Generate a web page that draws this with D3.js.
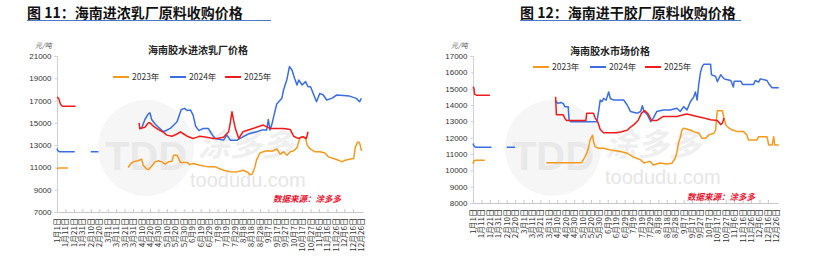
<!DOCTYPE html>
<html>
<head>
<meta charset="utf-8">
<script src="https://cdn.jsdelivr.net/npm/d3@7"></script>
<style>
  body { margin: 0; background: #fff; }
  svg { display: block; font-family: "Liberation Sans", Arial, sans-serif; }
</style>
</head>
<body>
<div id="chart"></div>
<script>
// x labels, one every 10 days
const xLabels = ["1月1日","1月11日","1月21日","1月31日","2月10日","2月20日","3月1日","3月11日","3月21日","3月31日",
  "4月10日","4月20日","4月30日","5月10日","5月20日","5月30日","6月9日","6月19日","6月29日","7月9日","7月19日",
  "7月29日","8月8日","8月18日","8月28日","9月7日","9月17日","9月27日","10月7日","10月17日","10月27日",
  "11月6日","11月16日","11月26日","12月6日","12月16日","12月26日"];
const seriesNames = ["2023年", "2024年", "2025年"];

// chart 11 (浓乳厂) : [day of year, price], null = gap
const latex2023 = [[0,10850],[2,10950],[13,10950],null,
  [84,11000],[88,11400],[92,11550],[96,11600],[100,11750],[102,11200],[106,10850],[108,10800],[112,11100],
  [116,11500],[120,11600],[124,11500],[128,11300],[132,11500],[136,11550],[138,12100],[142,12100],[146,11450],
  [154,11450],[157,11250],[161,11350],[169,11200],[179,11050],[187,11050],[197,10750],[205,10620],[213,10600],
  [220,10750],[226,10550],[228,10350],[231,10400],[234,11000],[236,11650],[240,12300],[244,12400],[248,12500],
  [254,12450],[256,12500],[260,12650],[264,12200],[268,12400],[272,12100],[276,12400],[280,12500],[284,12800],
  [286,13300],[288,13700],[292,13700],[294,13600],[296,13000],[299,12700],[305,12400],[311,12400],[317,12300],
  [321,11950],[327,11800],[333,11650],[337,11500],[341,11650],[347,11750],[351,11800],[353,12850],[356,13300],
  [358,13200],[360,12550],[361,12500]];
const latex2024 = [[0,12700],[1,12500],[3,12400],[21,12400],null,[40,12400],[49,12400],null,
  [97,14500],[100,14500],[104,15300],[108,15800],[110,15900],[112,15300],[116,14900],[120,14600],[126,14200],
  [134,14500],[142,15100],[147,16200],[151,16300],[154,16100],[158,16150],[161,15700],[164,14700],[168,14300],
  [173,14500],[179,14500],[183,14000],[187,13600],[197,13450],[201,13900],[205,13450],[213,13450],[220,13750],
  [228,14050],[236,14200],[242,14350],[248,14350],[250,15300],[252,14350],[254,14800],[258,16100],[260,16700],
  [266,17200],[268,17950],[272,18900],[275,20050],[278,19750],[281,19000],[284,18400],[286,18850],[290,18400],
  [294,18700],[297,18250],[300,18250],[303,17650],[307,16900],[311,17650],[315,17500],[319,17050],[325,17200],
  [331,17500],[346,17400],[354,17200],[358,16900],[360,17200]];
const latex2025 = [[0,17300],[2,17200],[4,16700],[6,16500],[22,16500],null,
  [97,15000],[98,14500],[104,14600],[108,15000],[110,15000],[114,14700],[120,14400],[125,14200],[130,13900],
  [136,13800],[142,14000],[146,14200],[150,14000],[154,13800],[161,13600],[165,13700],[169,13800],[177,13700],
  [185,13600],[189,13600],[197,13700],[203,14200],[205,15000],[207,16000],[209,15200],[211,14500],[215,13600],
  [220,14200],[228,14400],[236,14600],[244,14800],[252,14500],[260,14500],[268,14500],[276,14400],[280,13800],
  [285,13600],[291,13750],[295,13600],[297,14200]];

// chart 12 (干胶厂)
const dry2023 = [[0,10400],[1,10570],[3,10620],[14,10620],null,
  [87,10470],[129,10470],[133,10840],[135,11050],[137,11350],[139,11860],[141,12060],[142,12150],[143,11760],
  [145,11450],[149,11350],[155,11350],[163,11250],[175,11150],[183,11050],[191,10800],[199,10640],[203,10450],
  [210,10550],[214,10330],[222,10450],[230,10390],[236,10430],[240,10740],[242,11100],[244,11700],[246,12000],
  [248,12470],[250,12580],[258,12470],[262,12370],[268,12270],[272,11960],[276,11960],[280,12170],[286,12270],
  [288,12470],[289,13190],[290,13650],[296,13650],[298,13190],[300,12780],[304,12580],[308,12470],[314,12370],
  [321,12370],[325,12170],[327,11860],[337,11860],[339,12060],[349,12060],[351,11550],[355,11550],[357,12060],
  [358,11550],[363,11550]];
const dry2024 = [[0,11650],[1,11500],[3,11420],[22,11420],null,[40,11420],[50,11420],null,
  [98,14250],[101,14100],[104,14150],[107,14100],[109,13900],[113,13900],[114,13100],[116,12980],[147,12980],
  [149,13600],[151,14300],[153,14200],[155,14400],[158,14300],[161,14800],[163,14400],[167,14300],[179,14300],
  [183,14000],[187,13600],[195,13500],[199,13600],[201,13950],[203,13600],[207,13400],[211,12980],[214,13200],
  [218,13600],[226,13700],[234,13700],[242,13800],[246,13600],[250,13900],[254,13700],[258,14200],[262,14500],
  [264,14800],[266,14300],[268,15300],[270,16000],[272,16350],[274,16500],[282,16500],[283,15850],[288,15750],
  [290,15430],[294,15850],[298,15600],[302,15550],[306,15500],[309,15100],[310,15450],[318,15450],[320,15250],
  [333,15250],[335,15500],[339,15400],[341,15600],[349,15500],[351,15300],[355,15050],[363,15050]];
const dry2025 = [[0,15100],[1,15050],[2,14650],[4,14600],[20,14600],null,
  [98,14500],[99,13400],[107,13400],[109,13200],[111,13050],[123,13050],[134,13050],[135,13500],[143,13500],
  [145,13200],[148,12980],[151,12500],[155,12300],[170,12300],[175,12350],[183,12450],[187,12650],[191,12800],
  [196,13050],[200,13500],[204,13650],[208,13450],[212,13050],[218,13050],[226,13300],[242,13300],[250,13400],
  [254,13450],[266,13300],[274,13200],[282,13100],[290,13050],[294,12800],[296,12900],[298,13200]];

const colors = ["#f39a1e", "#3a6ee0", "#f01c1c"];

const svg = d3.select("#chart").append("svg")
  .attr("width", 817).attr("height", 263);

function drawChart(cfg) {
  let x = d3.scaleLinear().domain([0, 362]).range(cfg.xRange);
  let y = d3.scaleLinear().domain(cfg.yDomain).range(cfg.yRange);
  let g = svg.append("g");

  // figure title + underline
  g.append("text")
    .attr("x", cfg.title.x).attr("y", 18)
    .attr("font-family", "'Noto Sans CJK SC', sans-serif")
    .attr("font-weight", "bold").attr("font-size", 14).attr("fill", "#111")
    .text(cfg.title.text);
  g.append("line")
    .attr("x1", cfg.title.x).attr("x2", cfg.title.x2)
    .attr("y1", 20.5).attr("y2", 20.5)
    .attr("stroke", "#4a78c2").attr("stroke-width", 1.2);

  // watermark (faint)
  let wm = g.append("g").attr("pointer-events", "none");
  wm.append("circle")
    .attr("cx", cfg.wm.cx).attr("cy", 148).attr("r", 48)
    .attr("fill", "#f6f6f6");
  wm.append("text")
    .attr("x", cfg.wm.cx).attr("y", 170).attr("text-anchor", "middle")
    .attr("font-size", 40).attr("font-weight", "bold").attr("fill", "#e9e9e9")
    .text("TDD");
  wm.append("text")
    .attr("x", cfg.wm.cx + 52).attr("y", 156)
    .attr("font-family", "'Noto Sans CJK SC', sans-serif")
    .attr("font-size", 32).attr("font-weight", "bold").attr("font-style", "italic")
    .attr("fill", "#efefef")
    .text("涂多多");
  wm.append("text")
    .attr("x", cfg.wm.url).attr("y", cfg.wm.urlY)
    .attr("font-size", 20).attr("fill", "#e6e6e6")
    .text("toodudu.com");

  // chart title
  g.append("text")
    .attr("x", cfg.sub.x).attr("y", cfg.sub.y).attr("text-anchor", "middle")
    .attr("font-family", "'Noto Sans CJK SC', serif")
    .attr("font-weight", "bold").attr("font-size", 10).attr("fill", "#222")
    .text(cfg.sub.text);

  // unit
  g.append("text")
    .attr("x", cfg.xRange[0] - 22).attr("y", 48)
    .attr("font-family", "'Noto Sans CJK SC', sans-serif")
    .attr("font-size", 7).attr("font-style", "italic").attr("fill", "#555")
    .text("元/吨");

  // y axis
  let yAxis = g.append("g")
    .attr("transform", "translate(" + cfg.xRange[0] + ",0)")
    .call(d3.axisLeft(y).tickValues(cfg.yTicks).tickSize(2.5).tickPadding(3).tickFormat(d3.format("d")));
  yAxis.select(".domain").attr("stroke", "#d0d0d0");
  yAxis.selectAll(".tick line").attr("stroke", "#d0d0d0");
  yAxis.selectAll("text").attr("font-size", 8).attr("fill", "#333");

  // x axis
  let xAxis = g.append("g")
    .attr("transform", "translate(0," + cfg.yRange[0] + ")")
    .call(d3.axisBottom(x).tickValues(d3.range(0, 360, 10)).tickSizeInner(-3).tickSizeOuter(0).tickFormat(""));
  xAxis.select(".domain").attr("stroke", "#c8c8c8");
  xAxis.selectAll(".tick line").attr("stroke", "#c8c8c8");

  g.selectAll(".xlab")
    .data(xLabels)
    .enter()
    .append("text")
    .attr("class", "xlab")
    .attr("transform", (d, i) => "translate(" + (x(i * 10) + 3) + "," + (cfg.yRange[0] + 6) + ") rotate(-90)")
    .attr("text-anchor", "end")
    .attr("font-family", "'Noto Sans CJK SC', sans-serif")
    .attr("font-size", 8).attr("fill", "#333")
    .text(d => d);

  // lines
  let line = d3.line()
    .defined(d => d !== null)
    .x(d => x(d[0]))
    .y(d => y(d[1]));

  cfg.series.forEach(function (s, i) {
    g.append("path")
      .datum(s)
      .attr("fill", "none")
      .attr("stroke", colors[i])
      .attr("stroke-width", 1.5)
      .attr("stroke-linejoin", "round")
      .attr("d", line);
  });

  // legend
  let lg = g.selectAll(".lg")
    .data(seriesNames)
    .enter()
    .append("g")
    .attr("transform", (d, i) => "translate(" + cfg.legend.pos[i] + "," + cfg.legend.y + ")");
  lg.append("line")
    .attr("x1", 0).attr("x2", 16)
    .attr("stroke", (d, i) => colors[i]).attr("stroke-width", 2);
  lg.append("text")
    .attr("x", 19).attr("y", 3)
    .attr("font-family", "'Noto Sans CJK SC', sans-serif")
    .attr("font-size", 8.5).attr("fill", "#333")
    .text(d => d);

  // source
  g.append("text")
    .attr("x", cfg.src.x).attr("y", cfg.src.y)
    .attr("font-family", "'Noto Sans CJK SC', sans-serif")
    .attr("font-size", 8.5).attr("font-weight", "bold").attr("font-style", "italic")
    .attr("fill", "#e8102e")
    .text("数据来源：涂多多");
}

drawChart({
  xRange: [57, 363],
  yDomain: [7000, 21000], yRange: [212, 56],
  yTicks: d3.range(7000, 21001, 2000),
  title: { text: "图 11：海南进浓乳厂原料收购价格", x: 27, x2: 271 },
  sub: { text: "海南胶水进浓乳厂价格", x: 198, y: 54 },
  wm: { cx: 146, url: 190, urlY: 187 },
  legend: { y: 77, pos: [113, 170, 225] },
  src: { x: 273, y: 202 },
  series: [latex2023, latex2024, latex2025]
});

drawChart({
  xRange: [473, 778],
  yDomain: [8000, 17000], yRange: [203, 56],
  yTicks: d3.range(8000, 17001, 1000),
  title: { text: "图 12：海南进干胶厂原料收购价格", x: 520, x2: 741 },
  sub: { text: "海南胶水市场价格", x: 610, y: 55 },
  wm: { cx: 553, url: 605, urlY: 184 },
  legend: { y: 67, pos: [533, 590, 645] },
  src: { x: 687, y: 200 },
  series: [dry2023, dry2024, dry2025]
});
</script>
</body>
</html>
